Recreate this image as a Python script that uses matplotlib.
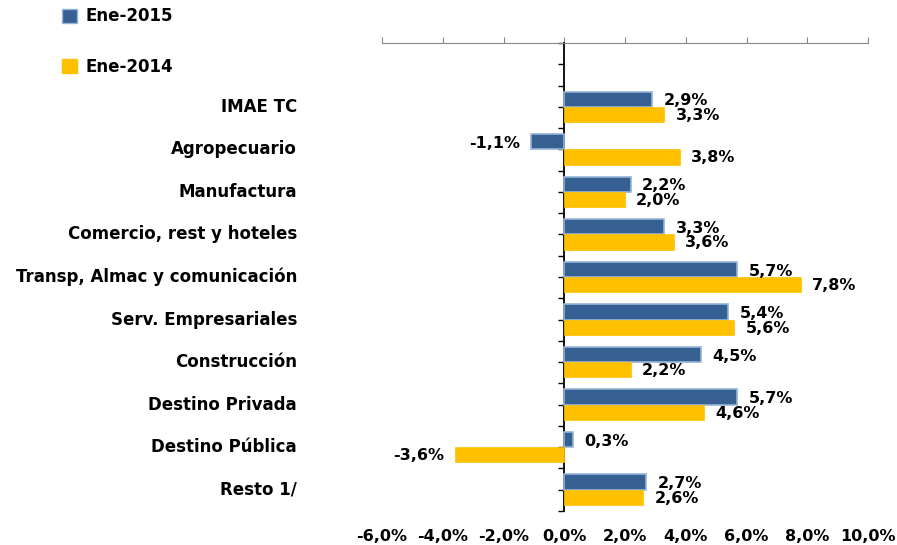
import matplotlib.pyplot as plt
import numpy as np
from matplotlib.patches import Patch
from matplotlib.transforms import blended_transform_factory

cats = ['IMAE TC', 'Agropecuario', 'Manufactura', 'Comercio, rest y hoteles',
        'Transp, Almac y comunicación', 'Serv. Empresariales', 'Construcción',
        'Destino Privada', 'Destino Pública', 'Resto 1/']
ene15 = [2.9, -1.1, 2.2, 3.3, 5.7, 5.4, 4.5, 5.7, 0.3, 2.7]
ene14 = [3.3, 3.8, 2.0, 3.6, 7.8, 5.6, 2.2, 4.6, -3.6, 2.6]
xticks = [-6, -4, -2, 0, 2, 4, 6, 8, 10]

c15, c15e, c14 = '#376092', '#95B3D7', '#FFC000'
fs = 11.5

def pct(v):
    return f'{v:.1f}%'.replace('.', ',')

fig = plt.figure(figsize=(8.97, 5.45), dpi=100)
ax = fig.add_axes([382/897, 1 - 511/545, (868 - 382)/897, (511 - 43)/545])

y = np.arange(len(cats))
h = 0.36
ax.barh(y - h/2, ene15, height=h, color=c15, edgecolor=c15e, linewidth=1.2, zorder=3)
ax.barh(y + h/2, ene14, height=h, color=c14, edgecolor=c14, linewidth=0.5, zorder=3)

for i in range(len(cats)):
    for v, yy, dy in [(ene15[i], y[i] - h/2, 0.04), (ene14[i], y[i] + h/2, 0.02)]:
        if v >= 0:
            ax.annotate(pct(v), (v, yy + dy), xytext=(8, 0), textcoords='offset points',
                        ha='left', va='center', fontsize=fs, fontweight='bold')
        else:
            ax.annotate(pct(v), (v, yy + dy), xytext=(-8, 0), textcoords='offset points',
                        ha='right', va='center', fontsize=fs, fontweight='bold')

trans = blended_transform_factory(ax.transAxes, ax.transData)
for i, c in enumerate(cats):
    ax.text((297 - 382)/(868 - 382), y[i], c, transform=trans, ha='right', va='center',
            fontsize=12, fontweight='bold')

ax.set_xlim(-6, 10)
ax.set_ylim(9.5, -1.5)
ax.set_xticks(xticks)
ax.set_xticklabels([pct(t) for t in xticks], fontsize=fs, fontweight='bold')
ax.tick_params(axis='x', bottom=False, top=True, labelbottom=True, labeltop=False,
               direction='out', length=4, color='#868686', pad=9)
ax.set_yticks(np.arange(-1.5, 9.6, 0.5))
ax.set_yticklabels([])
ax.tick_params(axis='y', direction='out', length=4.5, width=1, color='black')

for s in ['bottom', 'right']:
    ax.spines[s].set_visible(False)
ax.spines['top'].set_color('#868686')
ax.spines['left'].set_position(('data', 0))
ax.spines['left'].set_linewidth(1.3)

handles = [Patch(facecolor=c15, edgecolor=c15e, label='Ene-2015'),
           Patch(facecolor=c14, edgecolor=c14, label='Ene-2014')]
fig.legend(handles=handles, loc='upper left', bbox_to_anchor=(47/897, 1.014), frameon=False,
           prop={'size': 12, 'weight': 'bold'}, handlelength=0.9, handleheight=0.9,
           handletextpad=0.5, labelspacing=1.95)

fig.savefig('out.png', dpi=100)
